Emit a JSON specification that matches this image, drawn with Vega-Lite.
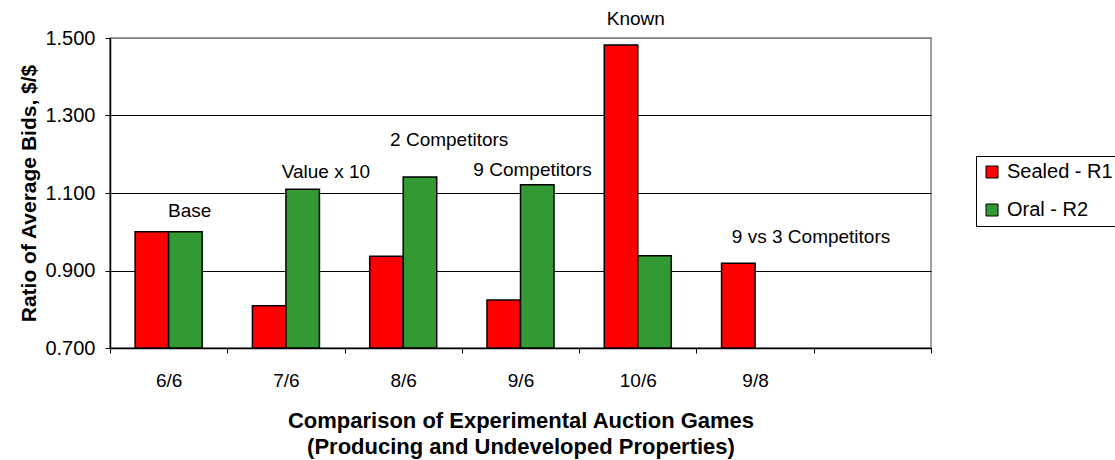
{
  "$schema": "https://vega.github.io/schema/vega-lite/v6.json",
  "width": 821,
  "height": 310,
  "autosize": {"type": "none"},
  "padding": {"left": 110, "top": 38, "right": 184, "bottom": 112},
  "background": "white",
  "config": {
    "font": "Liberation Sans",
    "view": {"stroke": "#808080", "strokeWidth": 1.5},
    "text": {"font": "Liberation Sans", "fontSize": 19, "color": "black"}
  },
  "layer": [
    {
      "data": {
        "values": [
          {"game": "6/6", "series": "Sealed - R1", "ratio": 1.0},
          {"game": "6/6", "series": "Oral - R2", "ratio": 1.0},
          {"game": "7/6", "series": "Sealed - R1", "ratio": 0.809},
          {"game": "7/6", "series": "Oral - R2", "ratio": 1.11},
          {"game": "8/6", "series": "Sealed - R1", "ratio": 0.937},
          {"game": "8/6", "series": "Oral - R2", "ratio": 1.141},
          {"game": "9/6", "series": "Sealed - R1", "ratio": 0.824},
          {"game": "9/6", "series": "Oral - R2", "ratio": 1.121},
          {"game": "10/6", "series": "Sealed - R1", "ratio": 1.482},
          {"game": "10/6", "series": "Oral - R2", "ratio": 0.938},
          {"game": "9/8", "series": "Sealed - R1", "ratio": 0.919}
        ]
      },
      "mark": {"type": "bar", "stroke": "black", "strokeWidth": 1.5},
      "encoding": {
        "x": {
          "field": "game",
          "type": "nominal",
          "sort": null,
          "scale": {"domain": ["6/6", "7/6", "8/6", "9/6", "10/6", "9/8", " "], "paddingInner": 0, "paddingOuter": 0},
          "axis": {
            "title": ["Comparison of Experimental Auction Games", "(Producing and Undeveloped Properties)"],
            "titleFontSize": 22,
            "titleFontWeight": "bold",
            "titleColor": "black",
            "titleLineHeight": 26,
            "titlePadding": 20,
            "labelAngle": 0,
            "labelFontSize": 19,
            "labelColor": "black",
            "labelPadding": 18,
            "tickBand": "extent",
            "tickSize": 5,
            "tickColor": "black",
            "domainColor": "black",
            "domainWidth": 1.5,
            "grid": false
          }
        },
        "xOffset": {
          "field": "series",
          "type": "nominal",
          "scale": {"domain": ["Sealed - R1", "Oral - R2"], "paddingInner": 0, "paddingOuter": 0.75}
        },
        "y": {
          "field": "ratio",
          "type": "quantitative",
          "scale": {"domain": [0.7, 1.5], "zero": false, "nice": false},
          "axis": {
            "title": "Ratio of Average Bids, $/$",
            "titleFontSize": 21,
            "titleFontWeight": "bold",
            "titleColor": "black",
            "titlePadding": 5,
            "values": [0.7, 0.9, 1.1, 1.3, 1.5],
            "format": ".3f",
            "labelFontSize": 20,
            "labelColor": "black",
            "labelPadding": 10,
            "tickSize": 5,
            "tickColor": "black",
            "domainColor": "black",
            "domainWidth": 1.5,
            "grid": true,
            "gridColor": {"condition": {"test": "datum.value >= 1.5", "value": "#808080"}, "value": "black"},
            "gridOpacity": 1
          }
        },
        "y2": {"datum": 0.7},
        "color": {
          "field": "series",
          "type": "nominal",
          "scale": {"domain": ["Sealed - R1", "Oral - R2"], "range": ["#ff0000", "#339933"]},
          "legend": {
            "orient": "none",
            "legendX": 866,
            "legendY": 118,
            "title": null,
            "strokeColor": "black",
            "fillColor": "white",
            "padding": 6,
            "rowPadding": 18,
            "labelFontSize": 20,
            "labelColor": "black",
            "labelOffset": 5,
            "symbolType": "square",
            "symbolSize": 144,
            "symbolStrokeColor": "black",
            "symbolStrokeWidth": 1,
            "cornerRadius": 0
          }
        }
      }
    },
    {
      "data": {"values": [{"game": "6/6", "ratio": 1.0535, "label": "Base"}]},
      "mark": {"type": "text", "dx": 21, "baseline": "middle", "align": "center"},
      "encoding": {
        "x": {"field": "game", "type": "nominal", "scale": {"domain": ["6/6", "7/6", "8/6", "9/6", "10/6", "9/8", " "]}},
        "y": {"field": "ratio", "type": "quantitative", "scale": {"domain": [0.7, 1.5], "zero": false, "nice": false}},
        "text": {"field": "label"}
      }
    },
    {
      "data": {"values": [{"game": "7/6", "ratio": 1.154, "label": "Value x 10"}]},
      "mark": {"type": "text", "dx": 40, "baseline": "middle", "align": "center"},
      "encoding": {
        "x": {"field": "game", "type": "nominal", "scale": {"domain": ["6/6", "7/6", "8/6", "9/6", "10/6", "9/8", " "]}},
        "y": {"field": "ratio", "type": "quantitative", "scale": {"domain": [0.7, 1.5], "zero": false, "nice": false}},
        "text": {"field": "label"}
      }
    },
    {
      "data": {"values": [{"game": "8/6", "ratio": 1.237, "label": "2 Competitors"}]},
      "mark": {"type": "text", "dx": 46, "baseline": "middle", "align": "center"},
      "encoding": {
        "x": {"field": "game", "type": "nominal", "scale": {"domain": ["6/6", "7/6", "8/6", "9/6", "10/6", "9/8", " "]}},
        "y": {"field": "ratio", "type": "quantitative", "scale": {"domain": [0.7, 1.5], "zero": false, "nice": false}},
        "text": {"field": "label"}
      }
    },
    {
      "data": {"values": [{"game": "9/6", "ratio": 1.1606, "label": "9 Competitors"}]},
      "mark": {"type": "text", "dx": 12, "baseline": "middle", "align": "center"},
      "encoding": {
        "x": {"field": "game", "type": "nominal", "scale": {"domain": ["6/6", "7/6", "8/6", "9/6", "10/6", "9/8", " "]}},
        "y": {"field": "ratio", "type": "quantitative", "scale": {"domain": [0.7, 1.5], "zero": false, "nice": false}},
        "text": {"field": "label"}
      }
    },
    {
      "data": {"values": [{"game": "10/6", "ratio": 1.549, "label": "Known"}]},
      "mark": {"type": "text", "dx": -2, "baseline": "middle", "align": "center"},
      "encoding": {
        "x": {"field": "game", "type": "nominal", "scale": {"domain": ["6/6", "7/6", "8/6", "9/6", "10/6", "9/8", " "]}},
        "y": {"field": "ratio", "type": "quantitative", "scale": {"domain": [0.7, 1.5], "zero": false, "nice": false}},
        "text": {"field": "label"}
      }
    },
    {
      "data": {"values": [{"game": "9/8", "ratio": 0.986, "label": "9 vs 3 Competitors"}]},
      "mark": {"type": "text", "dx": 56, "baseline": "middle", "align": "center"},
      "encoding": {
        "x": {"field": "game", "type": "nominal", "scale": {"domain": ["6/6", "7/6", "8/6", "9/6", "10/6", "9/8", " "]}},
        "y": {"field": "ratio", "type": "quantitative", "scale": {"domain": [0.7, 1.5], "zero": false, "nice": false}},
        "text": {"field": "label"}
      }
    }
  ]
}
